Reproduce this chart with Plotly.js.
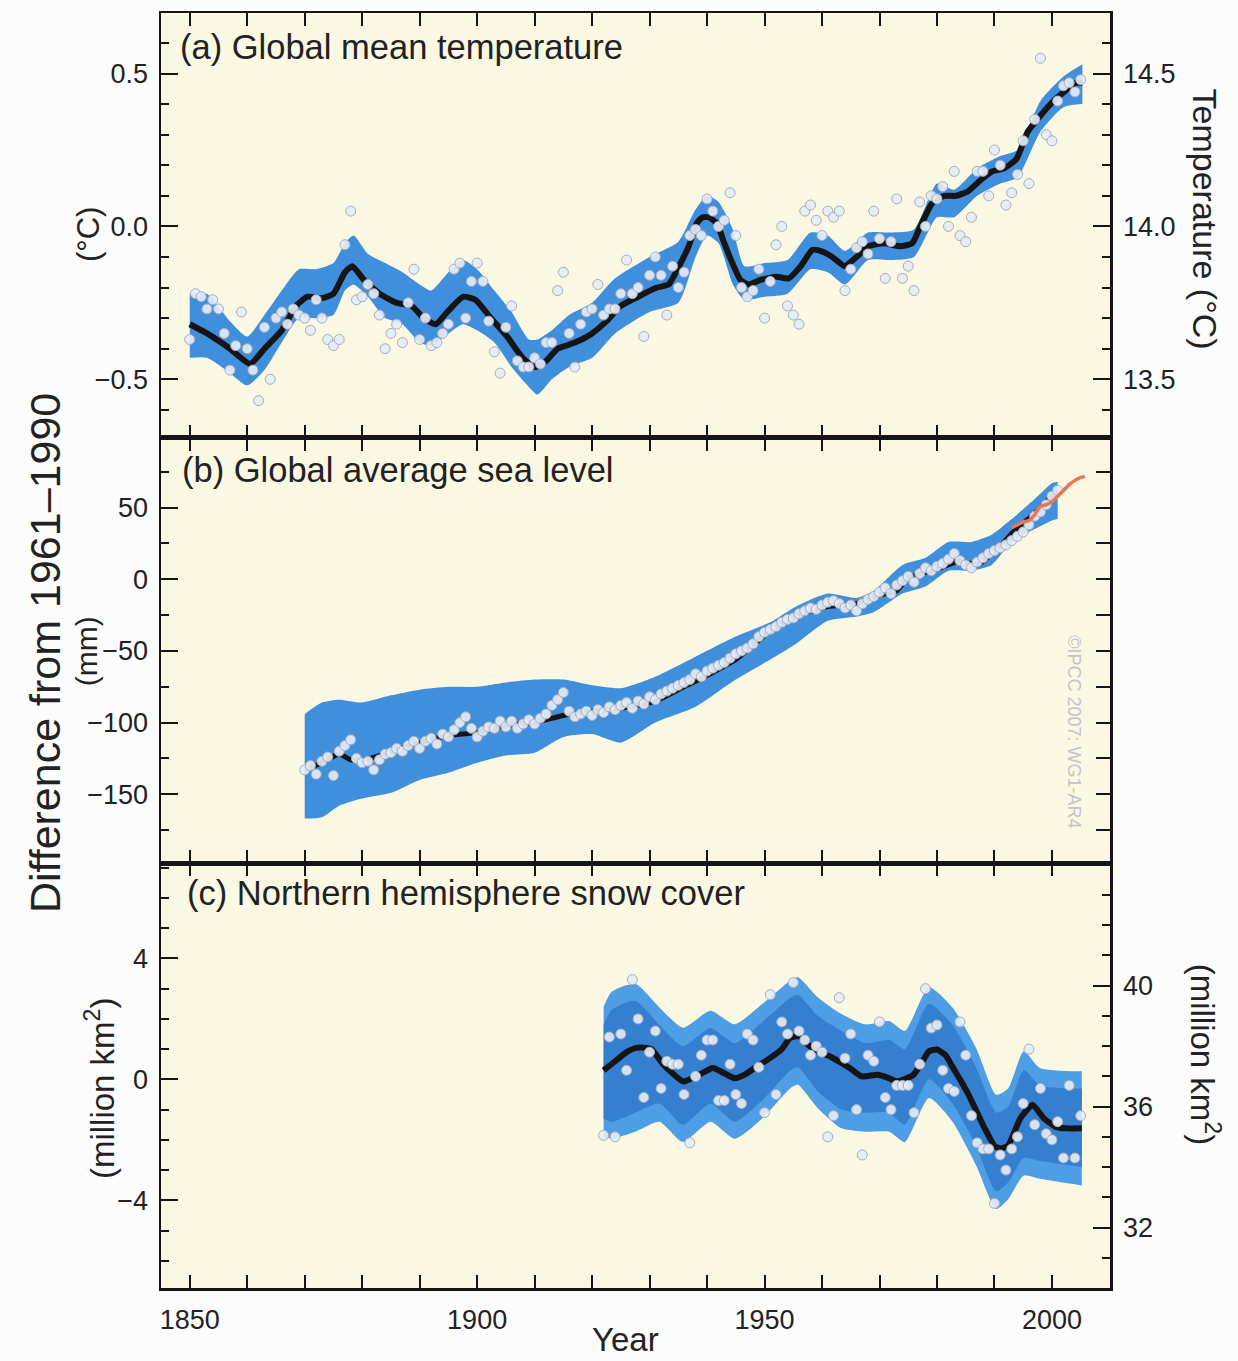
<!DOCTYPE html>
<html>
<head>
<meta charset="utf-8">
<script src="https://cdn.plot.ly/plotly-3.0.1.min.js"></script>
<style>html,body{margin:0;padding:0;background:#fcfcfd;}#chart{width:1238px;height:1361px;}</style>
</head>
<body>
<div id="chart"></div>
<script>
// ---------------- (a) Global mean temperature (anomaly, deg C) ----------------
const tempStartYear = 1850;
const tempAnnual = [
 -0.37,-0.22,-0.23,-0.27,-0.24,-0.27,-0.35,-0.47,-0.39,-0.28,
 -0.40,-0.47,-0.57,-0.33,-0.50,-0.30,-0.28,-0.32,-0.27,-0.29,
 -0.30,-0.34,-0.24,-0.30,-0.37,-0.39,-0.37,-0.06,0.05,-0.24,
 -0.23,-0.19,-0.22,-0.29,-0.40,-0.35,-0.32,-0.38,-0.25,-0.14,
 -0.37,-0.30,-0.39,-0.38,-0.35,-0.32,-0.14,-0.12,-0.30,-0.18,
 -0.12,-0.18,-0.31,-0.41,-0.48,-0.33,-0.26,-0.44,-0.46,-0.46,
 -0.43,-0.45,-0.38,-0.38,-0.21,-0.15,-0.35,-0.46,-0.32,-0.28,
 -0.27,-0.19,-0.29,-0.27,-0.27,-0.22,-0.11,-0.22,-0.20,-0.36,
 -0.16,-0.10,-0.16,-0.29,-0.13,-0.20,-0.15,-0.03,-0.01,-0.03,
 0.09,0.05,0.00,0.02,0.11,-0.03,-0.20,-0.23,-0.21,-0.14,
 -0.30,-0.18,-0.06,0.00,-0.26,-0.29,-0.32,0.05,0.07,0.02,
 -0.03,0.05,0.03,0.05,-0.21,-0.14,-0.07,-0.05,-0.09,0.05,
 -0.04,-0.17,-0.05,0.09,-0.17,-0.13,-0.21,0.08,0.00,0.10,
 0.09,0.13,0.00,0.18,-0.03,-0.05,0.03,0.18,0.18,0.10,
 0.25,0.20,0.07,0.11,0.17,0.28,0.14,0.35,0.55,0.30,
 0.28,0.41,0.46,0.47,0.44,0.48
];
const tempLineYears = [1850,1853,1857,1860.5,1863,1866,1868.5,1870.5,1873,1875,1877,1878.3,1880.3,1883,1886,1888.6,1890.7,1892.8,1894.8,1897.6,1899.7,1902.4,1905.2,1907.9,1910,1912,1914,1917,1920,1922.5,1925,1928,1931.3,1933.3,1935.4,1936.8,1938.2,1939.2,1940.3,1941.7,1943,1944.4,1945.8,1947.2,1949.3,1952.1,1954.2,1956.3,1958.3,1959.7,1961.8,1963.9,1966,1968.1,1970.8,1973.6,1975.7,1977.1,1979.2,1981.3,1983.3,1985.4,1987.5,1989.6,1991.7,1993.8,1995.8,1997.9,2000,2002.1,2004.2,2005.3];
const tempLine = [-0.32,-0.35,-0.40,-0.45,-0.40,-0.34,-0.26,-0.23,-0.235,-0.22,-0.15,-0.13,-0.175,-0.22,-0.25,-0.26,-0.30,-0.32,-0.28,-0.23,-0.24,-0.30,-0.36,-0.43,-0.46,-0.44,-0.40,-0.38,-0.35,-0.31,-0.26,-0.23,-0.20,-0.19,-0.12,-0.065,0.01,0.03,0.03,0.01,-0.055,-0.12,-0.175,-0.19,-0.175,-0.165,-0.17,-0.13,-0.077,-0.08,-0.10,-0.13,-0.10,-0.065,-0.055,-0.065,-0.055,0.0,0.077,0.10,0.10,0.115,0.15,0.18,0.19,0.22,0.31,0.36,0.405,0.44,0.47,0.47];
const tempBandYears = [1850,1853,1857,1860,1863,1866,1869,1872,1875,1877,1878.5,1881,1884,1887,1890,1892,1895,1897.5,1900,1903,1906,1909,1910.5,1913,1916,1920,1924,1930,1935,1938,1940,1942,1944.5,1946.5,1950,1954,1958,1961,1964,1968,1972,1976,1980,1983,1987,1991,1994,1998,2002,2005.3];
const tempBandUpper = [-0.22,-0.22,-0.31,-0.36,-0.29,-0.21,-0.14,-0.14,-0.12,-0.055,-0.03,-0.09,-0.12,-0.15,-0.19,-0.21,-0.15,-0.11,-0.14,-0.21,-0.28,-0.37,-0.37,-0.34,-0.29,-0.25,-0.17,-0.10,-0.05,0.055,0.10,0.08,-0.01,-0.13,-0.12,-0.11,-0.02,-0.03,-0.08,-0.02,-0.02,-0.01,0.14,0.12,0.19,0.23,0.25,0.41,0.49,0.53];
const tempBandLower = [-0.43,-0.43,-0.48,-0.52,-0.47,-0.38,-0.30,-0.30,-0.29,-0.21,-0.19,-0.23,-0.30,-0.32,-0.38,-0.39,-0.35,-0.32,-0.34,-0.38,-0.46,-0.525,-0.55,-0.50,-0.46,-0.43,-0.35,-0.28,-0.25,-0.10,-0.03,-0.055,-0.19,-0.24,-0.23,-0.22,-0.14,-0.15,-0.19,-0.11,-0.11,-0.10,0.03,0.03,0.10,0.14,0.16,0.31,0.39,0.40];

// ---------------- (b) Global average sea level (mm) ----------------
const seaStartYear = 1870;
const seaAnnual = [
 -133,-130,-136,-127,-124,-137,-120,-116,-112,-125,
 -128,-127,-133,-126,-122,-121,-118,-120,-116,-113,
 -118,-113,-111,-115,-108,-110,-105,-100,-96,-104,
 -110,-106,-103,-104,-99,-103,-99,-104,-101,-98,
 -101,-97,-94,-88,-84,-79,-92,-96,-94,-92,
 -95,-91,-93,-89,-91,-88,-86,-90,-85,-87,
 -82,-84,-80,-78,-76,-74,-72,-70,-66,-68,
 -64,-62,-60,-58,-55,-52,-50,-48,-45,-40,
 -37,-35,-33,-30,-28,-27,-24,-22,-20,-21,
 -18,-16,-15,-17,-20,-18,-22,-17,-14,-12,
 -9,-6,-10,-4,-1,2,-2,4,8,6,
 9,11,14,18,13,10,8,12,15,18,
 20,22,24,27,30,33,38,44,47,52,
 58,62
];
const seaLineYears = [1870,1873,1876,1878,1880,1883,1886,1890,1895,1900,1905,1910,1915,1920,1925,1931,1936,1941,1945,1951,1956,1961,1966,1970,1973,1975,1980,1984,1987,1991,1993,1997,2000,2001];
const seaLine = [-133,-128,-122,-126,-126,-123,-119,-114,-109,-107,-102,-100,-95,-92,-90,-85,-75,-65,-56,-36,-25,-19,-17,-11,-8,1,7,13,10,23,32,46,58,61];
const seaBandYears = [1870,1873,1876,1880,1885,1890,1895,1900,1905,1910,1915,1920,1925,1931,1938,1945,1951,1955.5,1961,1966,1969,1974,1978,1982,1986,1989.5,1993,1997,2000,2001];
const seaBandUpper = [-94,-86,-84,-86,-81,-77,-75,-75,-72,-70,-70,-74,-76,-68,-54,-40,-30,-19,-10,-13,-8,10,15,26,26,31,42,56,67,68];
const seaBandLower = [-167,-166,-158,-153,-149,-140,-135,-128,-123,-121,-110,-108,-114,-100,-89,-70,-56,-45,-29,-26,-23,-10,-5,6,6,10,26,35,41,42];
const altimetryYears = [1993,1994,1995,1996,1997,1998,1999,2000,2001,2002,2003,2004,2005,2005.7];
const altimetry = [36,38,40,41,45,51,52,54,58,62,66,69,71,72];

// ---------------- (c) Northern hemisphere snow cover (million km2) ----------------
const snowStartYear = 1922;
const snowAnnual = [
 -1.85,1.4,-1.9,1.5,0.3,3.3,2.0,-0.6,0.9,1.6,
 -0.3,0.6,0.5,0.5,-0.5,-2.1,0.1,0.8,1.3,1.3,
 -0.7,-0.7,0.5,-0.5,-0.8,1.5,1.3,0.4,-1.1,2.8,
 -0.5,1.9,1.5,3.2,1.6,1.3,0.8,1.1,0.9,-1.9,
 -1.2,2.7,0.7,1.5,-1.0,-2.5,0.8,0.6,1.9,-0.6,
 -1.0,-0.2,-0.2,-0.2,-1.1,0.5,3.0,1.7,1.8,0.3,
 -0.3,-0.4,1.9,0.8,-1.2,-2.1,-2.3,-2.3,-4.1,-2.5,
 -3.0,-2.3,-1.9,-0.8,1.0,-1.5,-0.3,-1.8,-2.0,-1.4,
 -2.6,-0.2,-2.6,-1.2
];
const snowLineYears = [1922,1924,1926,1927.6,1929,1930.3,1932.4,1934,1935.9,1938.6,1941,1943,1944.8,1946.5,1948.3,1951,1953,1954.5,1955.9,1957.5,1959.3,1961.5,1963.4,1965,1966.9,1969.7,1971.5,1973.1,1975.9,1977.5,1978.6,1980,1981.5,1982.8,1984,1985.5,1987,1988.3,1990,1991,1992.4,1994.5,1996.6,1998.6,2000.7,2002.5,2005.2];
const snowLine = [0.3,0.6,0.9,1.04,1.05,1.0,0.49,0.2,-0.07,0.15,0.38,0.2,0.04,0.15,0.38,0.71,1.0,1.38,1.43,1.15,0.93,0.75,0.54,0.35,0.10,0.15,0.05,-0.07,0.15,0.6,0.93,0.99,0.8,0.38,0.0,-0.51,-1.1,-1.62,-2.2,-2.29,-2.18,-1.29,-0.84,-1.29,-1.57,-1.62,-1.62];
const snowBandYears = [1922,1923.4,1927.5,1931.7,1935.8,1940.6,1944.8,1949.6,1954.5,1955.8,1959.3,1963.4,1967.5,1971.7,1974.4,1978.6,1982.7,1986.8,1990.3,1992.4,1995.1,1997.9,2005.2];
const snowBandUpper = [2.4,2.9,3.16,2.38,1.71,2.27,1.82,2.49,3.27,3.38,2.71,2.16,1.82,1.93,1.6,3.05,2.38,1.04,-0.51,-0.29,0.93,0.38,0.27];
const snowBandLower = [-1.9,-1.96,-1.73,-1.40,-2.07,-1.40,-1.96,-1.29,-0.29,-0.18,-0.96,-1.62,-1.73,-1.73,-2.07,-0.62,-1.40,-2.84,-4.29,-3.96,-3.18,-3.29,-3.51];
const snowInnerUpper = [1.8,2.3,2.6,1.8,1.1,1.7,1.2,1.9,2.7,2.8,2.1,1.6,1.2,1.3,1.0,2.5,1.8,0.4,-1.1,-0.9,0.3,-0.2,-0.3];
const snowInnerLower = [-1.3,-1.4,-1.1,-0.8,-1.5,-0.8,-1.4,-0.7,0.3,0.4,-0.4,-1.0,-1.1,-1.1,-1.5,0.0,-0.8,-2.2,-3.7,-3.4,-2.6,-2.7,-2.9];

// ---------------- axis labels & text ----------------
const tempRightTicks = [13.5, 14.0, 14.5];
const snowRightTicks = [32, 36, 40];
const panelTitles = ['(a) Global mean temperature','(b) Global average sea level','(c) Northern hemisphere snow cover'];
const leftTitle = 'Difference from 1961–1990';
const xTitle = 'Year';

// ---------------- build ----------------
function yearsFrom(start, n){ const a=[]; for(let i=0;i<n;i++) a.push(start+i); return a; }
const FONT = 'Liberation Sans, Arial, Helvetica, sans-serif';
const INK = '#151515';
const OUTER = '#3f8fdc';
const DOT = {size:10, color:'rgba(228,235,246,0.92)', line:{color:'#a9acbd', width:1}};

function band(xs, lo, hi, color, xa, ya){
  return [
    {x:xs, y:lo, mode:'lines', line:{width:0, shape:'spline', smoothing:0.6}, xaxis:xa, yaxis:ya, hoverinfo:'skip', showlegend:false},
    {x:xs, y:hi, mode:'lines', line:{width:0, shape:'spline', smoothing:0.6}, fill:'tonexty', fillcolor:color, xaxis:xa, yaxis:ya, hoverinfo:'skip', showlegend:false}
  ];
}
function line(xs, ys, xa, ya, color, w){
  return {x:xs, y:ys, mode:'lines', line:{color:color, width:w, shape:'spline', smoothing:0.5}, xaxis:xa, yaxis:ya, hoverinfo:'skip', showlegend:false};
}
function dots(xs, ys, xa, ya){
  return {x:xs, y:ys, mode:'markers', marker:DOT, xaxis:xa, yaxis:ya, hoverinfo:'skip', showlegend:false};
}
function dummy(xa, ya){ return {x:[1900], y:[null], mode:'markers', xaxis:xa, yaxis:ya, showlegend:false, hoverinfo:'skip'}; }

const data = [].concat(
  band(tempBandYears, tempBandLower, tempBandUpper, OUTER, 'x', 'y'),
  [line(tempLineYears, tempLine, 'x', 'y', INK, 6)],
  [dots(yearsFrom(tempStartYear, tempAnnual.length), tempAnnual, 'x', 'y')],
  band(seaBandYears, seaBandLower, seaBandUpper, OUTER, 'x2', 'y2'),
  [line(seaLineYears, seaLine, 'x2', 'y2', INK, 5)],
  [dots(yearsFrom(seaStartYear, seaAnnual.length), seaAnnual, 'x2', 'y2')],
  [line(altimetryYears, altimetry, 'x2', 'y2', '#ee7456', 3.5)],
  band(snowBandYears, snowBandLower, snowBandUpper, '#4d9ee4', 'x3', 'y3'),
  band(snowBandYears, snowInnerLower, snowInnerUpper, '#357fd0', 'x3', 'y3'),
  [line(snowLineYears, snowLine, 'x3', 'y3', INK, 6)],
  [dots(yearsFrom(snowStartYear, snowAnnual.length), snowAnnual, 'x3', 'y3')],
  [dummy('x','y4'), dummy('x2','y5'), dummy('x3','y6')]
);

const tickFont = {family:FONT, size:27, color:'#222'};
function xax(anchor, labels){
  return {anchor:anchor, range:[1845,2010.1], showline:true, linewidth:2.5, linecolor:INK, mirror:'allticks',
    ticks:'inside', ticklen:13, tickwidth:2, tickcolor:INK, tickmode:'linear', tick0:1850, dtick:50,
    minor:{ticks:'inside', ticklen:7, tickwidth:2, tickcolor:INK, tick0:1850, dtick:10, showgrid:false},
    showgrid:false, zeroline:false, showticklabels:labels, tickfont:tickFont, ticklabelstandoff:6, fixedrange:true};
}
function yax(opt){
  const o = {anchor:opt.anchor, range:opt.range, showline:true, linewidth:2.5, linecolor:INK, mirror:false,
    ticks:'inside', ticklen:opt.len||17, tickwidth:2, tickcolor:INK,
    showgrid:false, zeroline:false, tickfont:tickFont, tickformat:opt.fmt, side:opt.side, showticklabels:opt.labels,
    ticklabelstandoff:5, fixedrange:true};
  if (opt.vals) { o.tickmode='array'; o.tickvals=opt.vals; }
  else { o.tickmode='linear'; o.tick0=opt.tick0; o.dtick=opt.dtick; }
  if (opt.minor) o.minor = {ticks:'inside', ticklen:8, tickwidth:2, tickcolor:INK, tickmode:'linear', dtick:opt.minor, tick0:opt.mtick0, showgrid:false};
  if (opt.overlay) o.overlaying = opt.overlay; else o.domain = opt.domain;
  return o;
}

const dA = [0.6667, 1], dB = [0.3333, 0.6667], dC = [0, 0.3333];
const rA = [-0.692, 0.698], rB = [-198, 98.6], rC = [-6.9, 7.155];
const offA = 14.0, offC = 36.9;

function ann(text, x, y, size, angle, xanchor, color, yanchor){
  return {text:text, x:x, y:y, xref:'paper', yref:'paper', showarrow:false, textangle:angle||0,
    xanchor:xanchor||'center', yanchor:yanchor||'middle', font:{family:FONT, size:size, color:color||'#222'}};
}

const layout = {
  width:1238, height:1361,
  margin:{l:161, r:128, t:13, b:73},
  paper_bgcolor:'#fcfcfd', plot_bgcolor:'#faf7e3',
  showlegend:false,
  xaxis: xax('y', false),
  xaxis2: xax('y2', false),
  xaxis3: xax('y3', true),
  yaxis: yax({anchor:'x', domain:dA, range:rA, tick0:-0.5, dtick:0.5, minor:0.1, mtick0:-0.5, fmt:'.1f', side:'left', labels:true}),
  yaxis2: yax({anchor:'x2', domain:dB, range:rB, tick0:0, dtick:50, minor:25, mtick0:0, fmt:'d', side:'left', labels:true}),
  yaxis3: yax({anchor:'x3', domain:dC, range:rC, tick0:0, dtick:4, minor:1, mtick0:0, fmt:'d', side:'left', labels:true}),
  yaxis4: yax({anchor:'x', overlay:'y', range:[rA[0]+offA, rA[1]+offA], vals:tempRightTicks, minor:0.1, mtick0:13.5, fmt:'.1f', side:'right', labels:true}),
  yaxis5: yax({anchor:'x2', overlay:'y2', range:rB, tick0:0, dtick:25, fmt:'d', side:'right', labels:false, len:14}),
  yaxis6: yax({anchor:'x3', overlay:'y3', range:[rC[0]+offC, rC[1]+offC], vals:snowRightTicks, minor:1, mtick0:32, fmt:'d', side:'right', labels:true}),
  annotations: [
    ann(panelTitles[0], 0.018, 0.9737, 34.5, 0, 'left'),
    ann(panelTitles[1], 0.020, 0.6418, 34.5, 0, 'left'),
    ann(panelTitles[2], 0.025, 0.3099, 34.5, 0, 'left'),
    ann(leftTitle, -0.1222, 0.498, 43, -90),
    ann('(°C)', -0.0765, 0.8262, 31, -90),
    ann('(mm)', -0.0785, 0.499, 30, -90),
    ann('(million km<sup>2</sup>)', -0.064, 0.157, 33, -90),
    ann('Temperature (°C)', 1.1001, 0.838, 34, 90),
    ann('(million km<sup>2</sup>)', 1.1001, 0.183, 33, 90),
    ann('©IPCC 2007: WG1-AR4', 0.962, 0.436, 18, 90, 'center', '#c4c4c8'),
    ann(xTitle, 0.489, -0.0565, 33, 0, 'center', '#222', 'bottom')
  ]
};

Plotly.newPlot('chart', data, layout, {staticPlot:true, displayModeBar:false});
</script>
</body>
</html>
